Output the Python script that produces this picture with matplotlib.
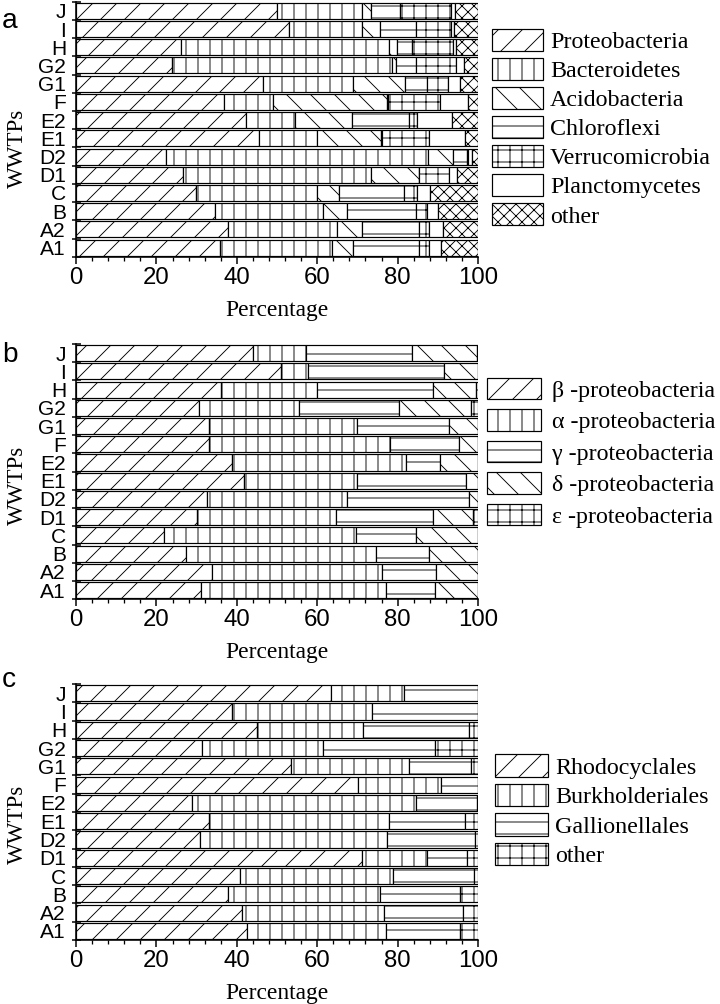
import numpy as np
import matplotlib
matplotlib.use("Agg")
import matplotlib.pyplot as plt
from matplotlib.ticker import MultipleLocator, FixedLocator

# sites, bottom to top
sites = ["A1", "A2", "B", "C", "D1", "D2", "E1", "E2", "F", "G1", "G2", "H", "I", "J"]

# panel a: phyla (%)
phyla = ["Proteobacteria", "Bacteroidetes", "Acidobacteria", "Chloroflexi",
         "Verrucomicrobia", "Planctomycetes", "other"]
proteobacteria = [35.8, 37.9, 34.6, 29.9, 26.7, 22.4, 45.4, 42.2, 36.8, 46.6, 23.8, 26.1, 53.1, 50.1]
bacteroidetes = [28.0, 26.9, 26.9, 30.1, 46.8, 65.2, 14.6, 12.3, 12.3, 22.4, 54.7, 51.8, 18.1, 21.1]
acidobacteria = [5.2, 6.3, 5.8, 5.4, 11.7, 6.3, 15.9, 14.2, 28.2, 12.8, 1.0, 1.9, 4.5, 2.2]
chloroflexi = [16.2, 14.1, 17.2, 16.3, 0.2, 3.3, 0.2, 14.2, 0.3, 5.4, 5.1, 3.9, 8.9, 7.2]
verrucomicrobia = [2.7, 2.7, 2.7, 3.0, 7.5, 0.3, 11.7, 1.8, 12.9, 5.4, 9.9, 10.2, 8.6, 12.6]
planctomycetes = [2.9, 3.3, 2.8, 3.4, 1.8, 0.9, 9.0, 8.9, 7.1, 2.8, 1.9, 0.6, 0.8, 1.1]
other_a = [9.2, 8.8, 10.0, 11.9, 5.3, 1.6, 3.2, 6.4, 2.4, 4.6, 3.6, 5.5, 6.0, 5.7]

# panel b: proteobacteria classes (%)
classes = ["β -proteobacteria", "α -proteobacteria", "γ -proteobacteria",
           "δ -proteobacteria", "ε -proteobacteria"]
beta = [31.1, 33.9, 27.3, 22.0, 30.2, 32.6, 41.8, 38.9, 33.1, 33.1, 30.7, 36.0, 50.9, 44.1]
alpha = [46.0, 42.2, 47.4, 47.6, 34.4, 34.7, 28.2, 43.3, 45.1, 36.9, 24.8, 23.9, 6.9, 13.0]
gamma = [12.1, 13.5, 13.0, 14.9, 24.2, 30.5, 26.9, 8.3, 17.1, 22.8, 24.9, 28.8, 33.8, 26.6]
delta = [10.8, 10.4, 12.3, 15.5, 10.0, 2.2, 3.1, 9.5, 4.7, 7.2, 17.8, 10.7, 8.4, 16.0]
epsilon = [0.0, 0.0, 0.0, 0.0, 1.2, 0.0, 0.0, 0.0, 0.0, 0.0, 1.8, 0.6, 0.0, 0.3]

# panel c: beta-proteobacteria orders (%)
orders = ["Rhodocyclales", "Burkholderiales", "Gallionellales", "other"]
rhodocyclales = [42.5, 41.4, 37.9, 40.8, 71.1, 30.8, 33.0, 28.9, 70.2, 53.4, 31.3, 44.9, 38.9, 63.4]
burkholderiales = [34.5, 35.2, 37.7, 38.1, 16.1, 46.6, 44.9, 55.7, 20.5, 29.5, 30.2, 26.6, 34.8, 18.2]
gallionellales = [18.4, 19.6, 19.9, 20.1, 10.0, 21.9, 18.9, 15.1, 9.3, 15.4, 27.9, 26.3, 26.3, 18.4]
other_c = [4.6, 3.8, 4.5, 1.0, 2.8, 0.7, 3.2, 0.3, 0.0, 1.7, 10.6, 2.2, 0.0, 0.0]

plt.rcParams["hatch.linewidth"] = 0.9
plt.rcParams["hatch.color"] = "black"

SANS = "Liberation Sans"
SERIF = "Liberation Serif"


def draw_panel(ax, series, labels, hatches):
    y = np.arange(len(sites))
    left = np.zeros(len(sites))
    for vals, lab, h in zip(series, labels, hatches):
        vals = np.array(vals)
        ax.barh(y, vals, left=left, height=0.88, color="white", edgecolor="black",
                linewidth=1.2, hatch=h, label=lab)
        left += vals
    ax.set_xlim(0, 100)
    ax.set_ylim(-0.5, len(sites) - 0.5)
    ax.spines["top"].set_visible(False)
    ax.spines["right"].set_visible(False)
    ax.spines["left"].set_linewidth(1.6)
    ax.spines["bottom"].set_linewidth(1.6)
    ax.set_yticks(y)
    ax.set_yticklabels(sites, fontfamily=SANS, fontsize=21)
    ax.yaxis.set_minor_locator(FixedLocator(np.arange(len(sites) + 1) - 0.5))
    ax.tick_params(axis="y", which="major", length=0, pad=10)
    ax.tick_params(axis="y", which="minor", direction="inout", length=9, width=1.5)
    ax.xaxis.set_major_locator(MultipleLocator(20))
    ax.xaxis.set_minor_locator(MultipleLocator(4))
    ax.tick_params(axis="x", which="major", direction="out", length=7, width=1.5, pad=3,
                   labelsize=24)
    ax.tick_params(axis="x", which="minor", direction="out", length=4, width=1.3)
    for t in ax.get_xticklabels():
        t.set_fontfamily(SANS)
    ax.set_xlabel("Percentage", fontfamily=SERIF, fontsize=23.5, labelpad=11)


fig = plt.figure(figsize=(10, 1004 / 72), dpi=72)

ax_a = fig.add_axes([0.1056, 0.7443, 0.5583, 0.254])
ax_b = fig.add_axes([0.1056, 0.4031, 0.5583, 0.2543])
ax_c = fig.add_axes([0.1056, 0.0637, 0.5583, 0.255])

draw_panel(ax_a, [proteobacteria, bacteroidetes, acidobacteria, chloroflexi,
                  verrucomicrobia, planctomycetes, other_a],
           phyla, ["/", "|", "\\", "-", "+", "", "xx"])
draw_panel(ax_b, [beta, alpha, gamma, delta, epsilon], classes, ["/", "|", "-", "\\", "+"])
draw_panel(ax_c, [rhodocyclales, burkholderiales, gallionellales, other_c],
           orders, ["/", "|", "-", "+"])

for ax, ly in [(ax_a, 0.424), (ax_b, 0.448), (ax_c, 0.453)]:
    ax.set_ylabel("WWTPs", fontfamily=SERIF, fontsize=23)
    ax.yaxis.set_label_coords(-0.12, ly)

leg_kw = dict(loc="upper left", bbox_transform=fig.transFigure, frameon=False,
              borderaxespad=0, borderpad=0, prop={"family": SERIF, "size": 24})
ax_a.legend(bbox_to_anchor=(492 / 720, 1 - 29 / 1004), handlelength=2.12, handleheight=1.04,
            handletextpad=0.3, labelspacing=0.2, **leg_kw)
ax_b.legend(bbox_to_anchor=(487 / 720, 1 - 378 / 1004), handlelength=2.25, handleheight=1.0,
            handletextpad=0.46, labelspacing=0.31, **leg_kw)
ax_c.legend(bbox_to_anchor=(495 / 720, 1 - 754 / 1004), handlelength=2.2, handleheight=1.08,
            handletextpad=0.3, labelspacing=0.21, **leg_kw)

for letter, yb in [("a", 28), ("b", 362), ("c", 687)]:
    fig.text(2 / 720, 1 - yb / 1004, letter, fontfamily=SANS, fontsize=28,
             ha="left", va="baseline")

fig.savefig("out.png", dpi=72)
plt.close(fig)
